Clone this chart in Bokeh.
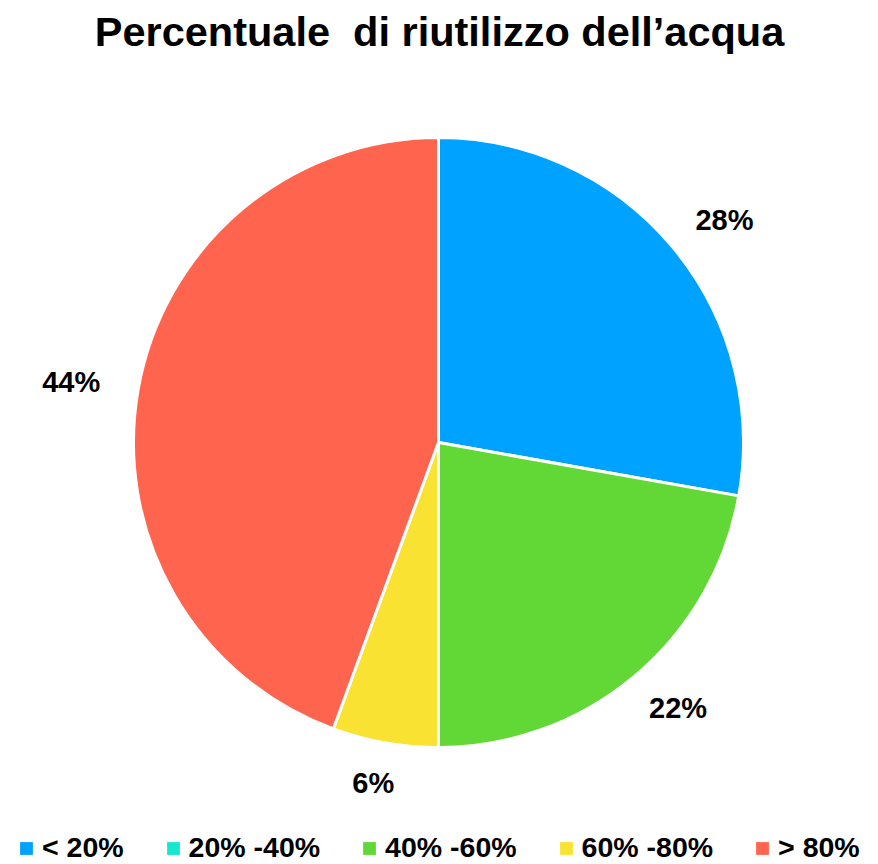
import math
from bokeh.plotting import figure
from bokeh.models import ColumnDataSource, Range1d, Label, Legend, LegendItem
from bokeh.embed import file_html
from bokeh.resources import INLINE

# ---- data ----
categories = ["< 20%", "20% -40%", "40% -60%", "60% -80%", "> 80%"]
shares = [27.8, 0, 22.2, 5.6, 44.4]
colors = ["#00A2FF", "#16E7CF", "#61D836", "#FAE232", "#FF644E"]
title_text = "Percentuale\u00a0 di riutilizzo dell\u2019acqua"

FONT = "Liberation Sans"
W, H = 878, 864
R = 305            # pie radius (px)
CX, CY = 438, 442  # pie centre measured from top-left of the canvas

total = float(sum(shares))
starts, ends, mids = [], [], []
cum = 0.0
for s in shares:
    a0 = math.pi / 2 - 2 * math.pi * cum / total
    cum += s
    a1 = math.pi / 2 - 2 * math.pi * cum / total
    starts.append(a0)
    ends.append(a1)
    mids.append((a0 + a1) / 2)

keep = [i for i, s in enumerate(shares) if s > 0]
src = ColumnDataSource(dict(cat=[categories[i] for i in keep],
                            val=[shares[i] for i in keep],
                            start=[starts[i] for i in keep],
                            end=[ends[i] for i in keep],
                            color=[colors[i] for i in keep]))
leg_src = ColumnDataSource(dict(cat=categories, color=colors))

p = figure(width=W, height=H, output_backend="svg", toolbar_location=None,
           x_range=Range1d(-CX, W - CX), y_range=Range1d(-(H - CY), CY),
           min_border=0, outline_line_color=None)
p.axis.visible = False
p.grid.visible = False
p.background_fill_color = "white"
p.border_fill_color = "white"

p.wedge(x=0, y=0, radius=R, start_angle="start", end_angle="end", direction="clock",
        fill_color="color", line_color="white", line_width=3, source=src)

# zero-size swatch renderer used only for the legend
leg_r = p.wedge(x=0, y=0, radius=0, start_angle=0, end_angle=0.0001, fill_color="color",
                line_color=None, source=leg_src)

# percentage labels outside each slice (placed on an ellipse around the pie)
LBL = 29
RX, RY = R + 68, R + 41
for val, m in zip(shares, mids):
    if val <= 0:
        continue
    t = f"{round(val)}%"
    p.add_layout(Label(x=RX * math.cos(m), y=RY * math.sin(m), text=t,
                       text_align="center", text_baseline="middle",
                       text_font=FONT, text_font_style="bold", text_font_size=f"{LBL}px",
                       text_color="black"))

# title
p.add_layout(Label(x=W / 2, y=H - 31, x_units="screen", y_units="screen", text=title_text,
                   text_align="center", text_baseline="alphabetic", text_font=FONT,
                   text_font_style="bold", text_font_size="41.5px", text_color="black"))

# legend (one square swatch per category, including empty ones)
items = [LegendItem(label=c, renderers=[leg_r], index=i) for i, c in enumerate(categories)]
legend = Legend(items=items, orientation="horizontal", location=(18, 0),
                glyph_width=16, glyph_height=16, label_standoff=8, spacing=41,
                label_text_font=FONT, label_text_font_style="bold", label_text_font_size="28.5px",
                label_text_color="black", padding=0, margin=0,
                border_line_alpha=0, background_fill_alpha=0)
p.add_layout(legend, "center")

open("out.html", "w").write(file_html(p, INLINE))
